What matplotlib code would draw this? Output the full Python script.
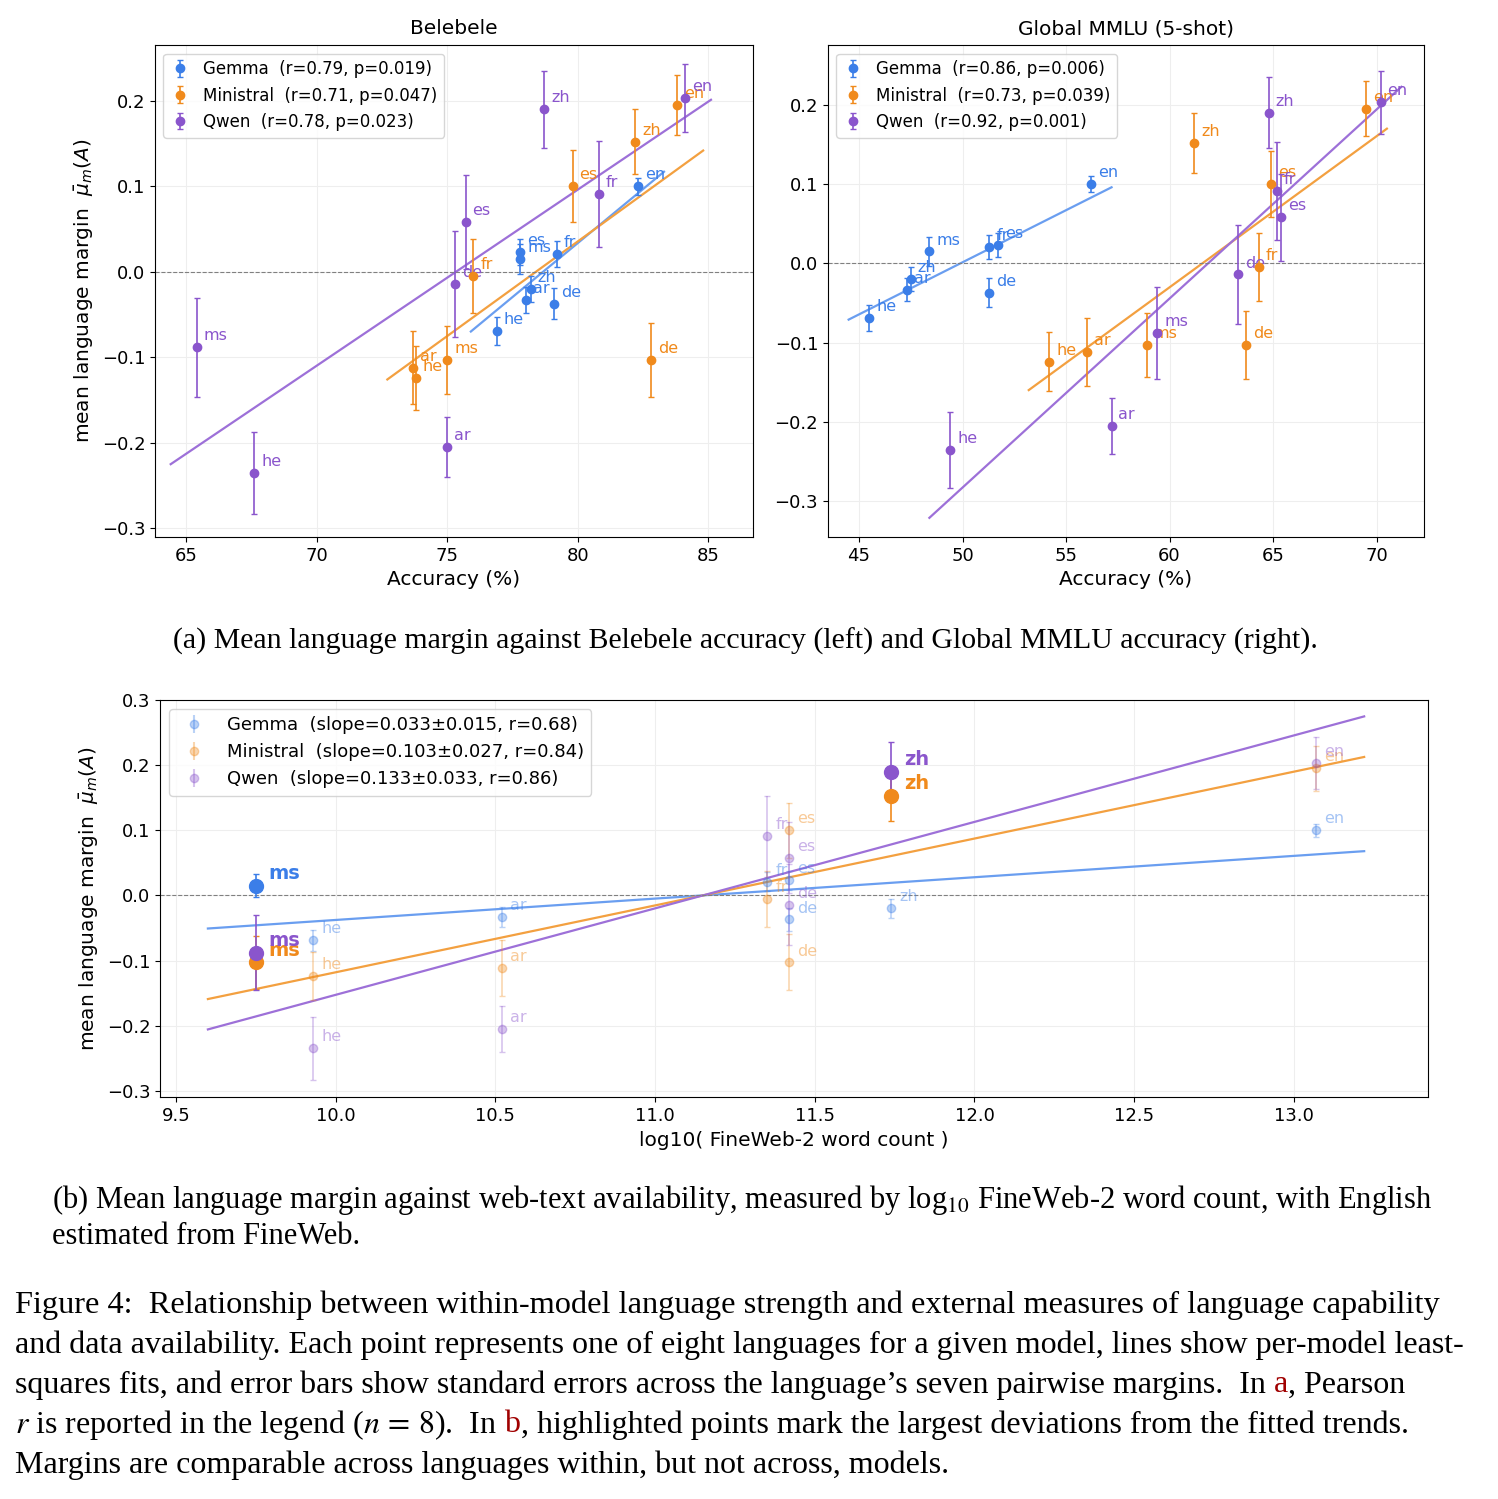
import matplotlib
matplotlib.use("Agg")
import matplotlib.pyplot as plt
import numpy as np

langs = ["en", "zh", "ms", "es", "fr", "de", "ar", "he"]
models = ["Gemma", "Ministral", "Qwen"]
margin = {
    "Gemma":     [0.100, -0.020, 0.015, 0.023, 0.021, -0.037, -0.033, -0.069],
    "Ministral": [0.195, 0.152, -0.103, 0.100, -0.005, -0.103, -0.112, -0.124],
    "Qwen":      [0.203, 0.190, -0.088, 0.058, 0.091, -0.014, -0.205, -0.235],
}
err = {
    "Gemma":     [0.010, 0.015, 0.018, 0.015, 0.015, 0.018, 0.015, 0.016],
    "Ministral": [0.035, 0.038, 0.040, 0.042, 0.043, 0.043, 0.043, 0.037],
    "Qwen":      [0.040, 0.045, 0.058, 0.055, 0.062, 0.062, 0.035, 0.048],
}
bele = {
    "Gemma":     [82.3, 78.2, 77.8, 77.8, 79.2, 79.1, 78.0, 76.9],
    "Ministral": [83.8, 82.2, 75.0, 79.8, 76.0, 82.8, 73.7, 73.8],
    "Qwen":      [84.1, 78.7, 65.4, 75.7, 80.8, 75.3, 75.0, 67.6],
}
mmlu = {
    "Gemma":     [56.2, 47.5, 48.4, 51.7, 51.3, 51.3, 47.3, 45.5],
    "Ministral": [69.5, 61.2, 58.9, 64.9, 64.3, 63.7, 56.0, 54.2],
    "Qwen":      [70.2, 64.8, 59.4, 65.4, 65.2, 63.3, 57.2, 49.4],
}
logwc = [13.07, 11.74, 9.75, 11.42, 11.35, 11.42, 10.52, 9.93]
leg_a = {"Gemma": "(r=0.79, p=0.019)", "Ministral": "(r=0.71, p=0.047)", "Qwen": "(r=0.78, p=0.023)"}
leg_m = {"Gemma": "(r=0.86, p=0.006)", "Ministral": "(r=0.73, p=0.039)", "Qwen": "(r=0.92, p=0.001)"}
leg_b = {"Gemma": "(slope=0.033±0.015, r=0.68)", "Ministral": "(slope=0.103±0.027, r=0.84)",
         "Qwen": "(slope=0.133±0.033, r=0.86)"}
highlight = [("Gemma", "ms"), ("Ministral", "ms"), ("Qwen", "ms"), ("Ministral", "zh"), ("Qwen", "zh")]

col = {"Gemma": "#3b7ee8", "Ministral": "#f08a1c", "Qwen": "#8a55cc"}
lcol = {"Gemma": "#6a9ef0", "Ministral": "#f3a040", "Qwen": "#9d70d8"}

fig = plt.figure(figsize=(14.98, 14.99), dpi=100)
ylab = r"mean language margin  $\bar{\mu}_m(A)$"

def panel(ax, xs, legd, title, pad, xlim, ylim, xticks):
    for m in models:
        x = np.array(xs[m]); y = np.array(margin[m])
        ax.errorbar(x, y, yerr=err[m], fmt="o", color=col[m], ms=6, capsize=2.5, elinewidth=1.2,
                    label=f"{m}  {legd[m]}", zorder=3)
        k, b = np.polyfit(x, y, 1)
        xx = np.array([x.min() - pad, x.max() + pad])
        ax.plot(xx, k * xx + b, color=lcol[m], lw=1.6, zorder=2)
        for xi, yi, l in zip(x, y, langs):
            ax.annotate(l, (xi, yi), xytext=(5, 5), textcoords="offset points", color=col[m], fontsize=11.5)
    ax.axhline(0, color="grey", ls="--", lw=0.8)
    ax.grid(color="#eeeeee", lw=0.8)
    ax.set_axisbelow(True)
    ax.set_xlim(*xlim); ax.set_ylim(*ylim); ax.set_xticks(xticks)
    ax.set_yticks([-0.3, -0.2, -0.1, 0.0, 0.1, 0.2])
    ax.set_title(title, fontsize=14.5, pad=8)
    ax.set_xlabel("Accuracy (%)", fontsize=14.5)
    ax.tick_params(labelsize=13)
    ax.legend(loc="upper left", fontsize=12, handlelength=1.2)

ax1 = fig.add_axes([0.1035, 0.6418, 0.399, 0.328])
panel(ax1, bele, leg_a, "Belebele", 1.0, (63.8, 86.7), (-0.31, 0.265), [65, 70, 75, 80, 85])
ax1.set_ylabel(ylab, fontsize=14.5)
ax2 = fig.add_axes([0.5527, 0.6418, 0.398, 0.328])
panel(ax2, mmlu, leg_m, "Global MMLU (5-shot)", 1.0, (43.5, 72.3), (-0.345, 0.275), [45, 50, 55, 60, 65, 70])

ax3 = fig.add_axes([0.1068, 0.268, 0.8465, 0.265])
for m in models:
    x = np.array(logwc); y = np.array(margin[m])
    for xi, yi, ei, l in zip(x, y, err[m], langs):
        hl = (m, l) in highlight
        ax3.errorbar([xi], [yi], yerr=[ei], fmt="o", color=col[m], ms=10 if hl else 6,
                     alpha=1 if hl else 0.35, capsize=2.5, elinewidth=1.2, zorder=3)
        ax3.annotate(l, (xi, yi), xytext=(9 if hl else 6, 5), textcoords="offset points",
                     color=col[m], alpha=1 if hl else 0.45, fontsize=14 if hl else 11.5,
                     fontweight="bold" if hl else "normal")
    k, b = np.polyfit(x, y, 1)
    xx = np.array([x.min() - 0.15, x.max() + 0.15])
    ax3.plot(xx, k * xx + b, color=lcol[m], lw=1.6, zorder=2)
    ax3.errorbar([], [], yerr=[], fmt="o", color=col[m], alpha=0.35, capsize=2.5, label=f"{m}  {leg_b[m]}")
ax3.axhline(0, color="grey", ls="--", lw=0.8)
ax3.grid(color="#eeeeee", lw=0.8); ax3.set_axisbelow(True)
ax3.set_xlim(9.45, 13.42); ax3.set_ylim(-0.31, 0.3)
ax3.set_xticks(np.arange(9.5, 13.01, 0.5))
ax3.set_yticks([-0.3, -0.2, -0.1, 0.0, 0.1, 0.2, 0.3])
ax3.set_xlabel("log10( FineWeb-2 word count )", fontsize=14.5)
ax3.set_ylabel(ylab, fontsize=14.5)
ax3.tick_params(labelsize=13)
ax3.legend(loc="upper left", fontsize=13, handlelength=2)

plt.rcParams["mathtext.fontset"] = "stix"
serif = "Liberation Serif"
W, H = 1498, 1499
fig.canvas.draw()
r = fig.canvas.get_renderer()

def line(pieces, px, py, size=21.5):
    x = px / W
    for s, c in pieces:
        t = fig.text(x, 1 - py / H, s, fontsize=size, family=serif, color=c, va="center")
        bb = t.get_window_extent(r)
        x += bb.width / W

fig.text(745 / W, 1 - 641 / H, "(a) Mean language margin against Belebele accuracy (left) and Global MMLU accuracy (right).",
         fontsize=21.5, family=serif, ha="center", va="center")
line([("(b) Mean language margin against web-text availability, measured by log$_{10}$ FineWeb-2 word count, with English", "k")], 52, 1200, 22)
line([("estimated from FineWeb.", "k")], 52, 1236, 22)
red = "#a00000"
fs = 23.3
line([("Figure 4:  Relationship between within-model language strength and external measures of language capability", "k")], 15, 1305, fs)
line([("and data availability. Each point represents one of eight languages for a given model, lines show per-model least-", "k")], 15, 1345, fs - 0.3)
line([("squares fits, and error bars show standard errors across the language’s seven pairwise margins.  In", "k"),
      (" a", red), (", Pearson", "k")], 15, 1385, fs - 0.3)
line([("$r$ is reported in the legend ($n\\,=\\,8$).  In", "k"), (" b", red),
      (", highlighted points mark the largest deviations from the fitted trends.", "k")], 15, 1425, fs - 0.3)
line([("Margins are comparable across languages within, but not across, models.", "k")], 15, 1465, fs - 0.3)

fig.savefig("out.png", dpi=100)
